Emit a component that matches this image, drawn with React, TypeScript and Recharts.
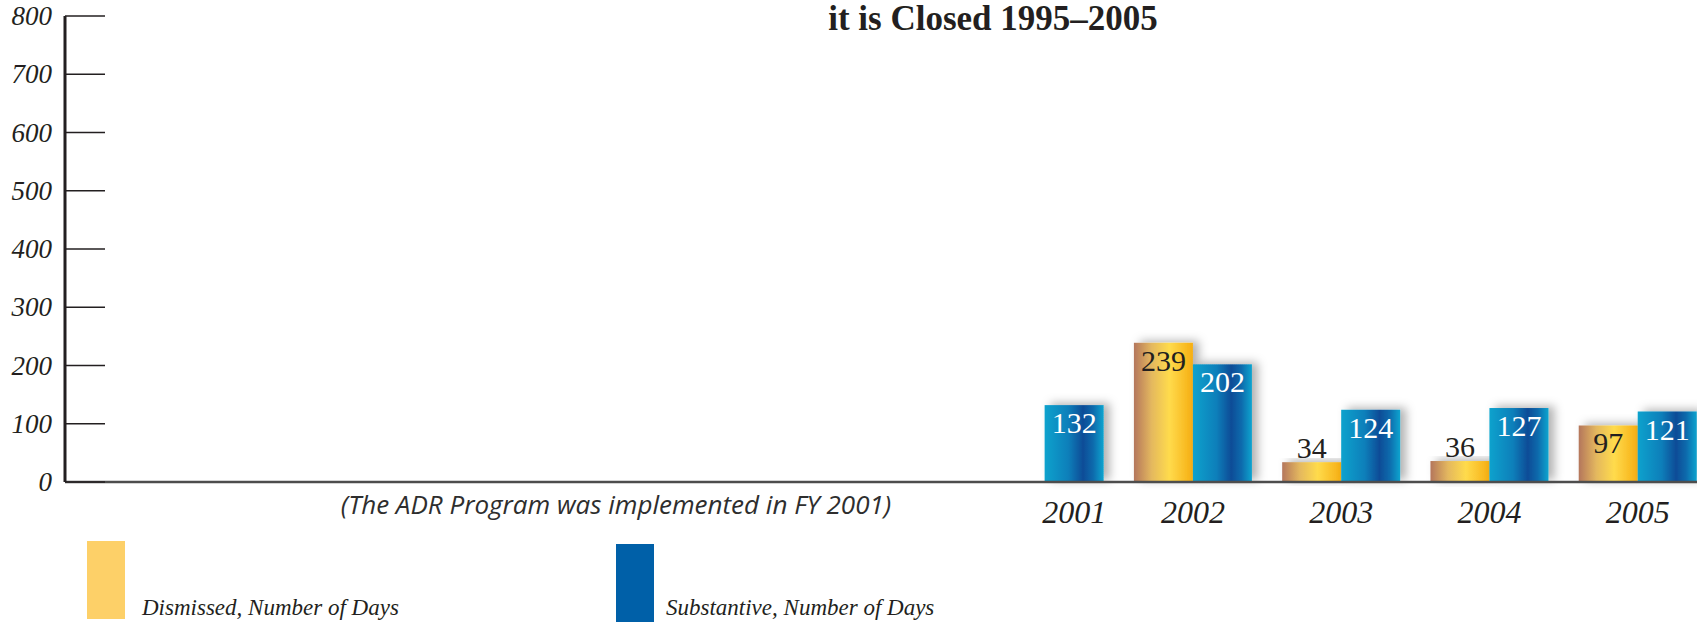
import { BarChart, Bar, XAxis, YAxis, LabelList, Legend } from 'recharts';

const years = ['1995', '1996', '1997', '1998', '1999', '2000', '2001', '2002', '2003', '2004', '2005'];
const dismissedDays = [null, null, null, null, null, null, null, 239, 34, 36, 97];
const substantiveDays = [null, null, null, null, null, null, 132, 202, 124, 127, 121];
const labeledYears = ['2001', '2002', '2003', '2004', '2005'];
const yTicks = [0, 100, 200, 300, 400, 500, 600, 700, 800];

const seriesNames = ['Dismissed, Number of Days', 'Substantive, Number of Days'];
const legendColors = ['#fdd068', '#0060a8'];

const data = years.map((year, i) => ({
  year,
  dismissed: dismissedDays[i],
  substantive: substantiveDays[i],
}));

const SERIF = '"Liberation Serif", "Times New Roman", serif';
const INK = '#231f20';
const BAR_SIZE = 59;

function YTick(props: any) {
  const { x, y, payload } = props;
  return (
    <g>
      <line x1={x} x2={x + 40} y1={y} y2={y} stroke={INK} strokeWidth={1.5} />
      <text
        x={x - 13}
        y={y}
        dy={9}
        textAnchor="end"
        fontFamily={SERIF}
        fontStyle="italic"
        fontSize={27}
        fill={INK}
      >
        {payload.value}
      </text>
    </g>
  );
}

function XTick(props: any) {
  const { x, y, payload } = props;
  if (!labeledYears.includes(payload.value)) return null;
  // when a year has only one bar, center the label on that bar
  const idx = years.indexOf(payload.value);
  const shift = dismissedDays[idx] == null ? BAR_SIZE / 2 : 0;
  return (
    <text
      x={x + shift}
      y={y}
      dy={41}
      textAnchor="middle"
      fontFamily={SERIF}
      fontStyle="italic"
      fontSize={32}
      fill={INK}
    >
      {payload.value}
    </text>
  );
}

function barLabel(color: string) {
  return (props: any) => {
    const { x, y, width, height, value } = props;
    if (value == null) return null;
    const above = height < 40;
    return (
      <text
        x={x + width / 2}
        y={above ? y - 4 : y + 28}
        textAnchor="middle"
        fontFamily={SERIF}
        fontSize={30}
        fill={above ? INK : color}
      >
        {value}
      </text>
    );
  };
}

function ShadowBar(fill: string) {
  return (props: any) => {
    const { x, y, width, height } = props;
    if (!height || height <= 0) return null;
    return <rect x={x} y={y} width={width} height={height} fill={fill} filter="url(#barShadow)" />;
  };
}

function LegendBlock() {
  const swatchX = [87, 616];
  const swatchY = [0, 3];
  const textX = [142, 666];
  return (
    <svg width={1000} height={82}>
      {seriesNames.map((name, i) => (
        <g key={name}>
          <rect x={swatchX[i]} y={swatchY[i]} width={38} height={78} fill={legendColors[i]} />
          <text
            x={textX[i]}
            y={74}
            fontFamily={SERIF}
            fontStyle="italic"
            fontSize={23}
            fill={INK}
          >
            {name}
          </text>
        </g>
      ))}
    </svg>
  );
}

export default function App() {
  return (
    <div
      style={{
        position: 'fixed',
        left: 0,
        top: 0,
        width: 1697,
        height: 623,
        overflow: 'hidden',
        background: '#fff',
      }}
    >
      <BarChart
        width={1712}
        height={623}
        data={data}
        margin={{ top: 16, right: 0, bottom: 0, left: 0 }}
        barGap={0}
        barSize={BAR_SIZE}
      >
        <defs>
          <linearGradient id="dismissedGrad" x1="0" y1="0" x2="1" y2="0">
            <stop offset="0%" stopColor="#b4765c" />
            <stop offset="30%" stopColor="#e4b85e" />
            <stop offset="60%" stopColor="#ffdb4c" />
            <stop offset="100%" stopColor="#f6ae12" />
          </linearGradient>
          <linearGradient id="substantiveGrad" x1="0" y1="0" x2="1" y2="0">
            <stop offset="0%" stopColor="#0aa2cd" />
            <stop offset="40%" stopColor="#0a7fba" />
            <stop offset="65%" stopColor="#0a4c97" />
            <stop offset="82%" stopColor="#0a6aac" />
            <stop offset="100%" stopColor="#0aa4cf" />
          </linearGradient>
          <filter id="barShadow" x="-20%" y="-20%" width="160%" height="140%">
            <feDropShadow dx={6} dy={-2} stdDeviation={5} floodColor="#000" floodOpacity={0.3} />
          </filter>
        </defs>
        <XAxis
          dataKey="year"
          height={141}
          padding={{ left: 16, right: 0 }}
          interval={0}
          tickLine={false}
          tickSize={0}
          tickMargin={0}
          axisLine={{ stroke: '#4d4d4d', strokeWidth: 2.5 }}
          tick={<XTick />}
        />
        <YAxis
          width={65}
          domain={[0, 800]}
          ticks={yTicks}
          interval={0}
          tickLine={false}
          tickSize={0}
          tickMargin={0}
          axisLine={{ stroke: INK, strokeWidth: 3 }}
          tick={<YTick />}
        />
        <Legend
          layout="horizontal"
          verticalAlign="middle"
          align="center"
          wrapperStyle={{ left: 0, top: 541, width: 1000, height: 82 }}
          content={() => <LegendBlock />}
        />
        <Bar
          dataKey="dismissed"
          name={seriesNames[0]}
          fill="url(#dismissedGrad)"
          shape={ShadowBar('url(#dismissedGrad)')}
          isAnimationActive={false}
        >
          <LabelList dataKey="dismissed" content={barLabel(INK)} />
        </Bar>
        <Bar
          dataKey="substantive"
          name={seriesNames[1]}
          fill="url(#substantiveGrad)"
          shape={ShadowBar('url(#substantiveGrad)')}
          isAnimationActive={false}
        >
          <LabelList dataKey="substantive" content={barLabel('#fff')} />
        </Bar>
      </BarChart>
      <svg
        width={1697}
        height={623}
        style={{ position: 'absolute', left: 0, top: 0, pointerEvents: 'none' }}
      >
        <text
          x={993}
          y={30}
          textAnchor="middle"
          fontFamily={SERIF}
          fontWeight="bold"
          fontSize={35}
          fill={INK}
        >
          it is Closed 1995–2005
        </text>
        <text
          x={616}
          y={514}
          textAnchor="middle"
          fontFamily='"Open Sans", sans-serif'
          fontStyle="italic"
          fontSize={26}
          fill="#2e2e2e"
        >
          (The ADR Program was implemented in FY 2001)
        </text>
      </svg>
    </div>
  );
}
